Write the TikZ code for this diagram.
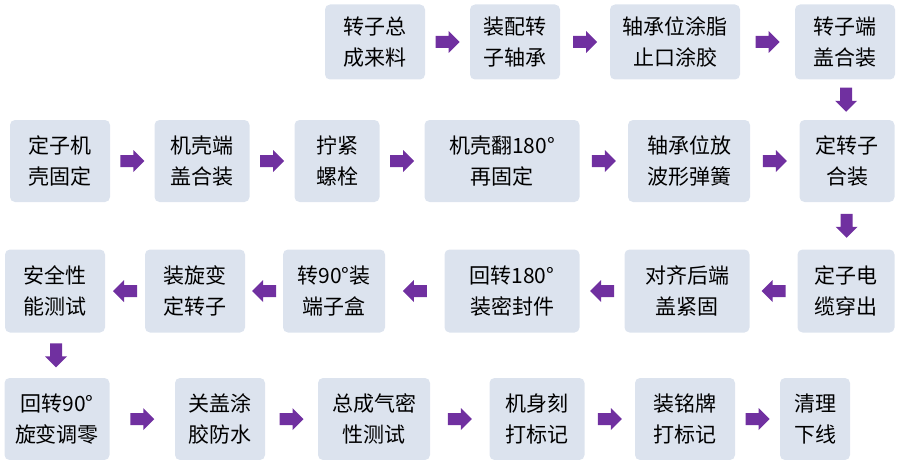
\documentclass[tikz,border=0pt]{standalone}
\usepackage{fontspec}
\setmainfont{Noto Sans CJK SC}
\usetikzlibrary{calc}
\definecolor{bx}{HTML}{DCE3EE}
\definecolor{pu}{HTML}{7030A0}
\tikzset{
 box/.style={fill=bx,rounded corners=5pt,align=center,inner sep=0pt,font=\fontsize{21}{31}\selectfont},
}
\newcommand{\bx}[6]{\node[box,minimum width=#3pt,minimum height=#4pt] (#1) at (#2) {#5\\#6};}
\newcommand{\blockarrow}[2]{\fill[pu,shift={(#1)},rotate=#2] (-12,-6) -- (1,-6) -- (1,-11) -- (12,0) -- (1,11) -- (1,6) -- (-12,6) -- cycle;}
\begin{document}
\begin{tikzpicture}[x=1pt,y=-1pt]
\useasboundingbox (0,0) rectangle (900,460);
\bx{a1}{375,42}{100}{75}{转子总}{成来料}
\bx{a2}{515,42}{90}{75}{装配转}{子轴承}
\bx{a3}{675,42}{130}{75}{轴承位涂脂}{止口涂胶}
\bx{a4}{845,42}{100}{75}{转子端}{盖合装}
\bx{b1}{60,161}{100}{82}{定子机}{壳固定}
\bx{b2}{202,161}{95}{82}{机壳端}{盖合装}
\bx{b3}{337,161}{85}{82}{拧紧}{螺栓}
\bx{b4}{502,161}{155}{82}{机壳翻180°}{再固定}
\bx{b5}{689,161}{122}{82}{轴承位放}{波形弹簧}
\bx{b6}{847,161}{95}{82}{定转子}{合装}
\bx{c1}{55,291}{100}{83}{安全性}{能测试}
\bx{c2}{195,291}{100}{83}{装旋变}{定转子}
\bx{c3}{334,291}{102}{83}{转90°装}{端子盒}
\bx{c4}{512,291}{135}{83}{回转180°}{装密封件}
\bx{c5}{687,291}{125}{83}{对齐后端}{盖紧固}
\bx{c6}{846,291}{97}{83}{定子电}{缆穿出}
\bx{d1}{57,419}{105}{82}{回转90°}{旋变调零}
\bx{d2}{220,419}{90}{82}{关盖涂}{胶防水}
\bx{d3}{374,419}{112}{82}{总成气密}{性测试}
\bx{d4}{537,419}{95}{82}{机身刻}{打标记}
\bx{d5}{685,419}{100}{82}{装铭牌}{打标记}
\bx{d6}{815,419}{70}{82}{清理}{下线}
\foreach \p/\q in {a1/a2,a2/a3,a3/a4,b1/b2,b2/b3,b3/b4,b4/b5,b5/b6,d1/d2,d2/d3,d3/d4,d4/d5,d5/d6}{
  \coordinate (r\p) at ($(\p.east)!0.5!(\q.west)$);
  \blockarrow{r\p}{0}}
\foreach \p/\q in {c6/c5,c5/c4,c4/c3,c3/c2,c2/c1}{
  \coordinate (l\p) at ($(\p.west)!0.5!(\q.east)$);
  \blockarrow{l\p}{180}}
\foreach \p/\q in {a4/b6,b6/c6,c1/d1}{
  \coordinate (v\p) at ($(\p.south)!0.5!(\q.north)$);
  \blockarrow{v\p}{-90}}
\end{tikzpicture}
\end{document}
